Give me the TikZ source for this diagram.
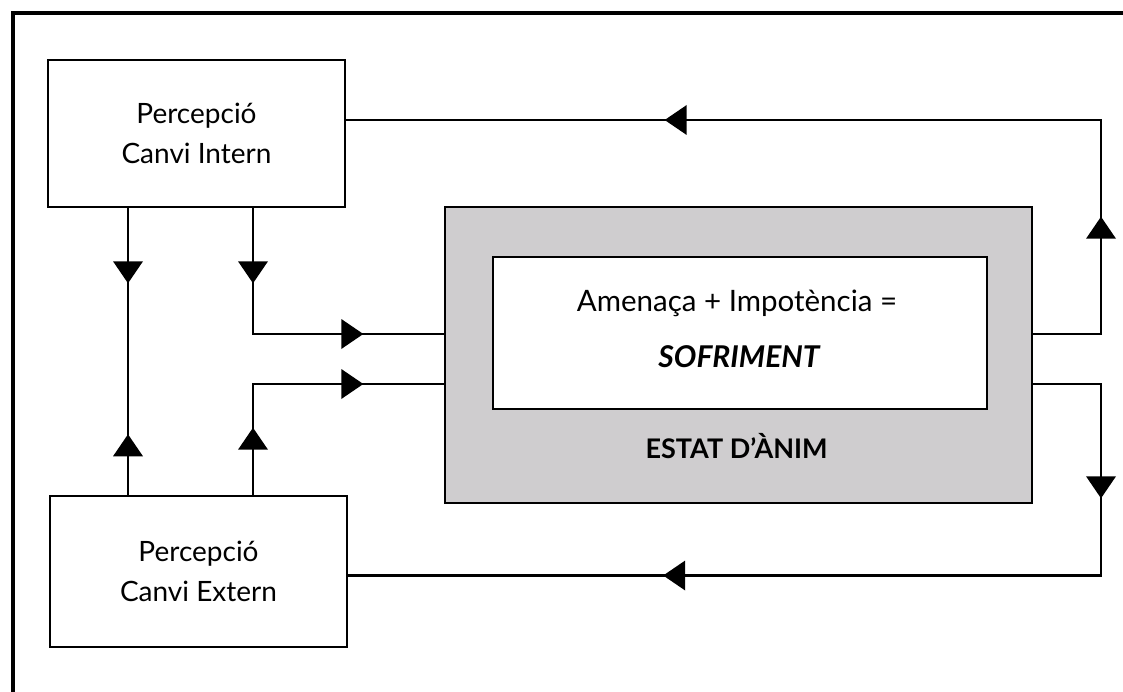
\documentclass[tikz,border=0pt]{standalone}
\usepackage{fontspec}
\setmainfont{Lato}
\usetikzlibrary{decorations.markings}

\definecolor{panelgray}{RGB}{207,205,207}

\tikzset{
  box/.style={draw=black, line width=2.6pt, fill=white, inner sep=0pt,
              align=center, font=\fontsize{28}{40}\selectfont},
  wire/.style={draw=black, line width=2.4pt},
  % filled triangle pointing along the path
  fwdtip/.style={postaction={decorate, decoration={markings,
      mark=at position #1 with {\fill[black] (0pt,0pt) -- (-22pt,15pt) -- (-22pt,-15pt) -- cycle;}}}},
  % filled triangle pointing against the path
  backtip/.style={postaction={decorate, decoration={markings,
      mark=at position #1 with {\fill[black] (0pt,0pt) -- (22pt,15pt) -- (22pt,-15pt) -- cycle;}}}},
  label/.style={anchor=base, inner sep=0pt, font=\fontsize{29.5}{34}\selectfont},
}

\begin{document}
\begin{tikzpicture}[x=1pt, y=-1pt]
  \useasboundingbox (0,0) rectangle (1123,692);

  % frame
  \draw[line width=4pt] (12.5,692) -- (12.5,13) -- (1123,13);

  % perception boxes
  \node[box, minimum width=297pt, minimum height=147pt] (intern) at (196.5,133.5)
       {Percepció\\Canvi Intern};
  \node[box, minimum width=297pt, minimum height=151pt] (extern) at (198.5,571.5)
       {Percepció\\Canvi Extern};

  % mood panel
  \node[draw=black, line width=2.6pt, fill=panelgray, minimum width=587pt,
        minimum height=296pt, inner sep=0pt] (mood) at (738.5,355) {};
  \node[draw=black, line width=2.6pt, fill=white, minimum width=494pt,
        minimum height=152pt, inner sep=0pt] (core) at (740,333) {};
  \node[label] (eq) at (737,312) {Amenaça + Impotència =};
  \node[label, font=\fontsize{30}{34}\selectfont\bfseries\itshape] (suff) at (739,367) {SOFRIMENT};
  \node[label, font=\fontsize{27}{34}\selectfont\bfseries] (state) at (736.5,458) {ESTAT D’ÀNIM};

  % routing columns and rows
  \coordinate (colA) at (128,0);
  \coordinate (colB) at (253,0);
  \coordinate (colR) at (1101,0);
  \coordinate (rowU) at (0,334);
  \coordinate (rowL) at (0,384);
  \coordinate (rowT) at (0,120);
  \coordinate (rowB) at (0,575.5);

  % left column linking both perception boxes
  \draw[wire, fwdtip=75pt, backtip=226pt]
    (intern.south -| colA) -- (extern.north -| colA);

  % internal perception into the panel
  \draw[wire, fwdtip=75pt, fwdtip=236pt]
    (intern.south -| colB) -- (colB |- rowU) -- (mood.west |- rowU);

  % external perception into the panel
  \draw[wire, fwdtip=67pt, fwdtip=221pt]
    (extern.north -| colB) -- (colB |- rowL) -- (mood.west |- rowL);

  % feedback to internal perception
  \draw[wire, fwdtip=185pt, fwdtip=718pt]
    (mood.east |- rowU) -- (colR |- rowU) -- (colR |- rowT) -- (intern.east |- rowT);

  % feedback to external perception
  \draw[wire, fwdtip=182pt, fwdtip=697pt]
    (mood.east |- rowL) -- (colR |- rowL) -- (colR |- rowB) -- (extern.east |- rowB);
\end{tikzpicture}
\end{document}
